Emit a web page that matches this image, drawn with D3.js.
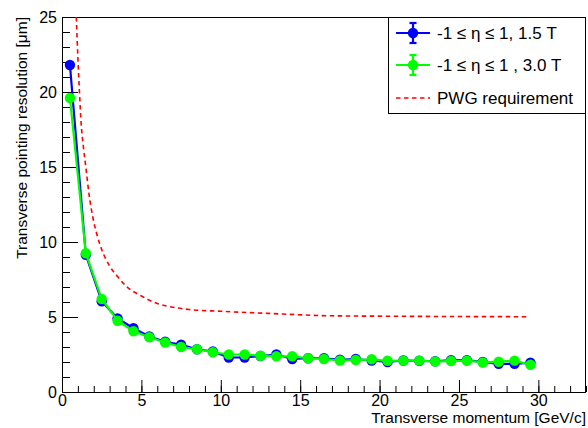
<!DOCTYPE html>
<html>
<head>
<meta charset="utf-8">
<script src="https://cdn.jsdelivr.net/npm/d3@7"></script>
<style>
  html, body { margin: 0; padding: 0; background: #fff; }
  svg { display: block; font-family: "Liberation Sans", Arial, Helvetica, sans-serif; }
</style>
</head>
<body>
<svg id="chart" width="588" height="428"></svg>
<script>
// transverse momentum bin centres [GeV/c]
const pt = [0.5, 1.5, 2.5, 3.5, 4.5, 5.5, 6.5, 7.5, 8.5, 9.5,
  10.5, 11.5, 12.5, 13.5, 14.5, 15.5, 16.5, 17.5, 18.5, 19.5,
  20.5, 21.5, 22.5, 23.5, 24.5, 25.5, 26.5, 27.5, 28.5, 29.5];

// pointing resolution [um], 1.5 T
const res15 = [21.8, 9.15, 6.05, 4.9, 4.25, 3.7, 3.35, 3.15, 2.85, 2.7,
  2.3, 2.3, 2.4, 2.5, 2.2, 2.25, 2.25, 2.15, 2.2, 2.1,
  2.0, 2.1, 2.08, 2.05, 2.12, 2.12, 2.0, 1.88, 1.88, 1.95];

// pointing resolution [um], 3.0 T
const res30 = [19.6, 9.25, 6.2, 4.75, 4.05, 3.65, 3.3, 3.0, 2.85, 2.65,
  2.5, 2.5, 2.42, 2.38, 2.38, 2.25, 2.2, 2.1, 2.13, 2.18,
  2.08, 2.09, 2.09, 2.03, 2.07, 2.09, 1.97, 2.02, 2.09, 1.82];

// PWG requirement curve
const pwgPt = [0.9, 1.0, 1.1, 1.2, 1.35, 1.5, 1.7, 1.95, 2.2, 2.4, 2.5, 3.0, 3.5, 4.0,
  5.0, 6.0, 7.0, 8.0, 10, 13, 17, 21, 25, 29.3];
const pwgRes = [25.0, 22.3, 20.0, 18.0, 16.3, 15.0, 13.2, 11.6, 10.5, 9.8, 9.5, 8.4, 7.7, 7.1,
  6.4, 5.9, 5.65, 5.5, 5.38, 5.24, 5.08, 5.05, 5.03, 5.02];

const xTicks = [0, 5, 10, 15, 20, 25, 30];
const yTicks = [0, 5, 10, 15, 20, 25];

const legendLabels = ['-1 \u2264 \u03b7 \u2264 1, 1.5 T', '-1 \u2264 \u03b7 \u2264 1 , 3.0 T', 'PWG requirement'];

const plotL = 62, plotR = 586, plotT = 17, plotB = 392;

const svg = d3.select('#chart');
svg.append('rect').attr('width', 588).attr('height', 428).attr('fill', '#fff');

const x = d3.scaleLinear().domain([0, 33]).range([plotL, plotR]);
const y = d3.scaleLinear().domain([0, 25]).range([plotB, plotT]);

svg.append('defs').append('clipPath').attr('id', 'plotclip')
  .append('rect')
  .attr('x', plotL).attr('y', plotT)
  .attr('width', plotR - plotL).attr('height', plotB - plotT);

// minor ticks
svg.append('g')
  .attr('transform', `translate(0,${plotB})`)
  .call(d3.axisBottom(x).tickValues(d3.range(0, 34)).tickSize(-6).tickSizeOuter(0).tickFormat(''))
  .call(g => g.select('.domain').remove());
svg.append('g')
  .attr('transform', `translate(${plotL},0)`)
  .call(d3.axisLeft(y).tickValues(d3.range(0, 26)).tickSize(-8).tickSizeOuter(0).tickFormat(''))
  .call(g => g.select('.domain').remove());

// major ticks with labels
const xAxis = svg.append('g')
  .attr('transform', `translate(0,${plotB})`)
  .call(d3.axisBottom(x).tickValues(xTicks).tickSize(-12).tickSizeOuter(0).tickPadding(3));
xAxis.select('.domain').remove();
xAxis.selectAll('text').attr('font-size', 16).attr('fill', '#000').style('font-family', 'Liberation Sans, Arial, sans-serif');

const yAxis = svg.append('g')
  .attr('transform', `translate(${plotL},0)`)
  .call(d3.axisLeft(y).tickValues(yTicks).tickSize(-16).tickSizeOuter(0).tickPadding(5));
yAxis.select('.domain').remove();
yAxis.selectAll('text').attr('font-size', 16).attr('fill', '#000').style('font-family', 'Liberation Sans, Arial, sans-serif');

svg.selectAll('.tick line').attr('stroke', '#000');

// frame
svg.append('rect')
  .attr('x', plotL + 0.5).attr('y', plotT + 0.5)
  .attr('width', plotR - plotL - 1).attr('height', plotB - plotT)
  .attr('fill', 'none').attr('stroke', '#000').attr('stroke-width', 1);

// axis titles
svg.append('text')
  .attr('x', plotR).attr('y', 423)
  .attr('text-anchor', 'end')
  .attr('font-size', 15.5)
  .text('Transverse momentum [GeV/c]');
svg.append('text')
  .attr('transform', `translate(27,${plotT}) rotate(-90)`)
  .attr('text-anchor', 'end')
  .attr('font-size', 15.5)
  .text('Transverse pointing resolution [\u03bcm]');

const plot = svg.append('g').attr('clip-path', 'url(#plotclip)');

const line = d3.line().x(d => x(d[0])).y(d => y(d[1]));

const series = [
  { vals: res15, color: '#0000ff' },
  { vals: res30, color: '#00ff00' }
];

series.forEach(s => {
  const pts = pt.map((p, i) => [p, s.vals[i]]);
  plot.append('path')
    .datum(pts)
    .attr('fill', 'none')
    .attr('stroke', s.color)
    .attr('stroke-width', 2.2)
    .attr('d', line);
  plot.selectAll(null)
    .data(pts)
    .enter()
    .append('circle')
    .attr('cx', d => x(d[0]))
    .attr('cy', d => y(d[1]))
    .attr('r', 5.2)
    .attr('fill', s.color);
});

plot.append('path')
  .datum(pwgPt.map((p, i) => [p, pwgRes[i]]))
  .attr('fill', 'none')
  .attr('stroke', '#ff0000')
  .attr('stroke-width', 1.6)
  .attr('stroke-dasharray', '4.5,3.5')
  .attr('d', line.curve(d3.curveMonotoneX));

// legend
const legend = svg.append('g');
legend.append('rect')
  .attr('x', 388.5).attr('y', plotT + 0.5)
  .attr('width', plotR - 388.5 - 0.5).attr('height', 96)
  .attr('fill', '#fff').attr('stroke', '#000').attr('stroke-width', 1);

const rowY = [33, 65, 98];
const legendColors = ['#0000ff', '#00ff00', '#ff0000'];

legendLabels.forEach((label, i) => {
  const g = legend.append('g').attr('transform', `translate(0,${rowY[i]})`);
  if (i < 2) {
    g.append('line').attr('x1', 396).attr('x2', 430).attr('y1', 0).attr('y2', 0)
      .attr('stroke', legendColors[i]).attr('stroke-width', 2.2);
    g.append('line').attr('x1', 413).attr('x2', 413).attr('y1', -10).attr('y2', 10)
      .attr('stroke', legendColors[i]).attr('stroke-width', 2.2);
    [-10, 10].forEach(dy => {
      g.append('line').attr('x1', 409.5).attr('x2', 416.5).attr('y1', dy).attr('y2', dy)
        .attr('stroke', legendColors[i]).attr('stroke-width', 2.2);
    });
    g.append('circle').attr('cx', 413).attr('cy', 0).attr('r', 5.2).attr('fill', legendColors[i]);
  } else {
    g.append('line').attr('x1', 396).attr('x2', 430).attr('y1', 0).attr('y2', 0)
      .attr('stroke', legendColors[i]).attr('stroke-width', 1.6)
      .attr('stroke-dasharray', '4.5,3.5');
  }
  g.append('text')
    .attr('x', 437).attr('y', 0).attr('dy', '0.36em')
    .attr('font-size', 17)
    .text(label);
});
</script>
</body>
</html>
